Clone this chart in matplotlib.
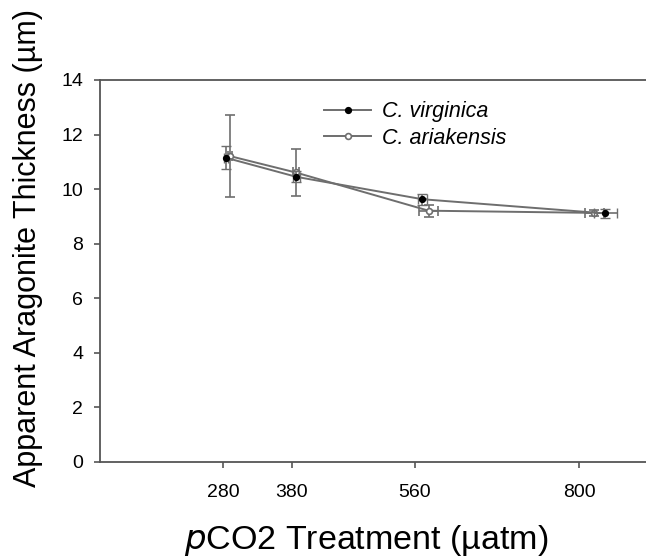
import matplotlib
matplotlib.use("Agg")
import matplotlib.pyplot as plt
from matplotlib.lines import Line2D

plt.rcParams['font.family'] = ['Liberation Sans', 'DejaVu Sans']

# Data
x_tick_vals = [280, 380, 560, 800]
y_tick_vals = [0, 2, 4, 6, 8, 10, 12, 14]

virginica_x = [284, 387, 571, 838]
virginica_y = [11.15, 10.45, 9.63, 9.11]
virginica_yerr = [0.43, 0.2, 0.2, 0.18]
virginica_xerr = [3, 5, 6, 17]

ariakensis_x = [290, 386, 580, 822]
ariakensis_y = [11.21, 10.61, 9.21, 9.13]
ariakensis_yerr = [1.5, 0.86, 0.22, 0.1]
ariakensis_xerr = [3, 4, 14, 14]

W, H = 646, 558
fig = plt.figure(figsize=(W / 100, H / 100), dpi=100)
left, right, top, bottom = 100, 646, 80, 462
ax = fig.add_axes([left / W, 1 - bottom / H, (right - left) / W, (bottom - top) / H])

gray = '#6e6e6e'
ms = 4.2
ax.errorbar(ariakensis_x, ariakensis_y, yerr=ariakensis_yerr, xerr=ariakensis_xerr,
            color=gray, ecolor=gray, elinewidth=1.2, capsize=3.5, capthick=1.2,
            lw=1.4, marker='o', ms=ms, mfc='white', mec=gray, mew=1.2, zorder=3)
ax.errorbar(virginica_x, virginica_y, yerr=virginica_yerr, xerr=virginica_xerr,
            color=gray, ecolor=gray, elinewidth=1.2, capsize=3.5, capthick=1.2,
            lw=1.4, marker='o', ms=ms, mfc='black', mec='black', mew=1.0, zorder=4)

ax.set_xlim(100, 100 + (right - left) / 0.6846)
ax.set_ylim(0, 14)
ax.set_xticks(x_tick_vals)
ax.set_yticks(y_tick_vals)
ax.tick_params(axis='x', direction='out', length=4, width=1.2, color='#555555',
               labelsize=14, pad=12, top=False)
ax.tick_params(axis='y', direction='out', length=4, width=1.2, color='#555555',
               labelsize=14, pad=8, right=False)
for s in ['left', 'bottom', 'top']:
    ax.spines[s].set_color('#555555')
    ax.spines[s].set_linewidth(1.3)
ax.spines['right'].set_visible(False)

h_v = Line2D([], [], color=gray, lw=1.4, marker='o', ms=ms, mfc='black', mec='black')
h_a = Line2D([], [], color=gray, lw=1.4, marker='o', ms=ms, mfc='white', mec=gray, mew=1.2)
ax.legend([h_v, h_a], ['C. virginica', 'C. ariakensis'], loc='upper left',
          bbox_to_anchor=(0.375, 0.995), frameon=False,
          prop={'style': 'italic', 'size': 15.5}, handlelength=2.2,
          handletextpad=0.5, labelspacing=0.25)

fig.text(366 / W, 1 - 541 / H, r'$\it{p}$CO2 Treatment (µatm)', ha='center', va='center',
         fontsize=24.5)
fig.text(28 / W, 1 - 248 / H, 'Apparent Aragonite Thickness (µm)', ha='center', va='center',
         rotation=90, fontsize=22)

fig.savefig('out.png', dpi=100)
